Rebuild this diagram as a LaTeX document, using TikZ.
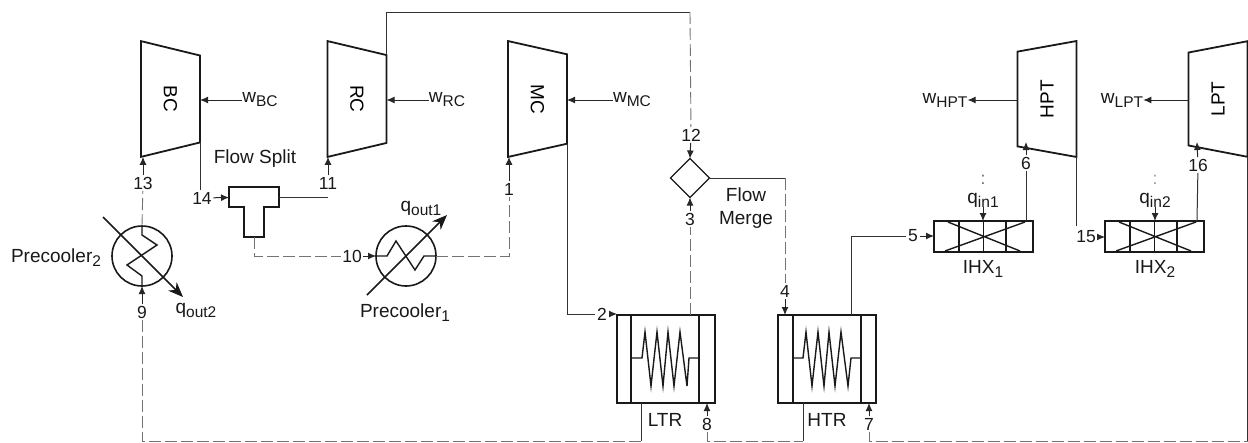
\documentclass[tikz,border=0pt]{standalone}
\usepackage{fontspec}
\setmainfont{Liberation Sans}
\usetikzlibrary{arrows.meta,shapes.geometric}
\newcommand{\lowtext}[1]{\raisebox{-4pt}{\fontsize{15.5}{16}\selectfont #1}}
\tikzset{
    machine/.style={trapezium,draw=black!90,line width=1.8pt,inner sep=0pt,outer sep=0pt,
        trapezium left angle=72,trapezium right angle=72,trapezium stretches=true,
        minimum height=59pt,minimum width=116pt,font=\fontsize{19}{19}\selectfont},
    unit/.style={draw=black!90,line width=1.9pt,inner sep=0pt,outer sep=0pt},
    cooler/.style={circle,draw=black!90,line width=1.6pt,minimum size=60pt,inner sep=0pt,outer sep=0pt},
    detail/.style={draw=black!90,line width=1.4pt},
    state/.style={font=\fontsize{17.5}{18}\selectfont,inner sep=1.5pt,text=black!90},
    tag/.style={font=\fontsize{19}{23}\selectfont,inner sep=0pt,text=black!90,align=center},
    line/.style={draw=black!80,line width=1pt},
    pipe/.style={draw=black!55,line width=0.9pt,dash pattern=on 12pt off 4pt},
    edge/.style={-{Latex[length=8pt,width=7pt]},draw=black!85,line width=1pt},
    heat/.style={-{Stealth[length=15pt,width=12pt]},draw=black!90,line width=1.5pt}
}
\begin{document}
\begin{tikzpicture}[x=1pt,y=-1pt]
\useasboundingbox (0,0) rectangle (1248,442);

\node[machine,rotate=-90] (BC) at (170.5,99) {BC};
\node[machine,rotate=-90] (RC) at (357,99) {RC};
\node[machine,rotate=-90] (MC) at (537.5,99) {MC};
\node[machine,rotate=90] (HPT) at (1047,99) {HPT};
\node[machine,rotate=90] (LPT) at (1218,99) {LPT};

\node[tag] (wBC) at (260,100) {w\lowtext{BC}};
\node[tag] (wRC) at (447,100) {w\lowtext{RC}};
\node[tag] (wMC) at (632,100) {w\lowtext{MC}};
\node[tag] (wHPT) at (945,100) {w\lowtext{HPT}};
\node[tag] (wLPT) at (1122,100) {w\lowtext{LPT}};

\draw[edge] (wBC) -- (wBC -| BC.top right corner);
\draw[edge] (wRC) -- (wRC -| RC.top right corner);
\draw[edge] (wMC) -- (wMC -| MC.top right corner);
\draw[edge] (wHPT -| HPT.top left corner) -- (wHPT);
\draw[edge] (wLPT -| LPT.top left corner) -- (wLPT);

\draw[unit] (229,187) -| (279,207) -| (264,237) -| (244,207) -| (229,187) -- cycle;
\coordinate (FSleft) at (229,197.5);
\coordinate (FSright) at (279,197.5);
\coordinate (FSbottom) at (254,237);
\node[tag] (FS) at (255,159) {Flow Split};

\node[cooler] (PC2) at (142,256) {};
\node[cooler] (PC1) at (406,256) {};
\draw[detail] (PC2.north) -- ++(0,9) -- ++(15,10) -- ++(-30,20) -- ++(15,11) -- (PC2.south);
\draw[detail] (PC1.west) -- ++(11,0) -- ++(9,-15) -- ++(19,29) -- ++(9,-14) -- (PC1.east);
\coordinate (q2start) at (103,217);
\coordinate (q2end) at (183,297);
\coordinate (q1start) at (367,295);
\coordinate (q1end) at (447,215);
\draw[heat] (q2start) -- (q2end);
\draw[heat] (q1start) -- (q1end);
\node[tag] (PClab2) at (56,258) {Precooler\lowtext{2}};
\node[tag] (PClab1) at (405,313) {Precooler\lowtext{1}};
\node[tag] (qout2) at (196,310) {q\lowtext{out2}};
\node[tag] (qout1) at (421,208) {q\lowtext{out1}};

\node[unit,diamond,line width=1.3pt,minimum size=39pt] (FM) at (690,178) {};
\node[tag] (FMlab) at (746,208.5) {Flow\\Merge};

\node[unit,rectangle,minimum width=98pt,minimum height=88pt] (LTR) at (666,359) {};
\node[unit,rectangle,minimum width=98pt,minimum height=88pt] (HTR) at (827,359) {};
\draw[detail] (631,315) -- (631,403) (699,315) -- (699,403);
\draw[detail] (793,315) -- (793,403) (861,315) -- (861,403);
\draw[detail] (631,358) -- (642,358) -- (645,332) -- (651,386) -- (657,332) -- (663,386) -- (668,332) -- (674,386) -- (680,332) -- (687,386) -- (689,358) -- (699,358);
\draw[detail] (793,358) -- (803,358) -- (806,332) -- (812,386) -- (818,332) -- (824,386) -- (829,332) -- (835,386) -- (841,332) -- (848,386) -- (851,358) -- (861,358);
\node[tag] (LTRlab) at (665,420) {LTR};
\node[tag] (HTRlab) at (827,420) {HTR};

\node[unit,rectangle,minimum width=99pt,minimum height=31pt] (IHX1) at (983.5,236.5) {};
\node[unit,rectangle,minimum width=99pt,minimum height=31pt] (IHX2) at (1154.5,236.5) {};
\draw[detail] (959,221) -- (959,252) (983.5,221) -- (983.5,252) (1006,221) -- (1006,252);
\draw[detail] (948,222) -- (1020,251) (945,251) -- (1025,222);
\draw[detail] (1130,221) -- (1130,252) (1154.5,221) -- (1154.5,252) (1177,221) -- (1177,252);
\draw[detail] (1119,222) -- (1191,251) (1116,251) -- (1196,222);
\node[tag] (IHXlab1) at (983,269) {IHX\lowtext{1}};
\node[tag] (IHXlab2) at (1155,269) {IHX\lowtext{2}};
\node[tag] (qin1) at (983,200) {q\lowtext{in1}};
\node[tag] (qin2) at (1155,200) {q\lowtext{in2}};
\node[state,text=black!60] (dots1) at (983,180) {:};
\node[state,text=black!40] (dots2) at (1155,180) {:};
\draw[edge] (qin1) -- (qin1 |- IHX1.north);
\draw[edge] (qin2) -- (qin2 |- IHX2.north);

\node[state] (s1) at (509,189) {1};
\node[state] (s2) at (602,314) {2};
\node[state] (s3) at (690,219) {3};
\node[state] (s4) at (785,291) {4};
\node[state] (s5) at (913,236) {5};
\node[state] (s6) at (1026,163) {6};
\node[state] (s7) at (869,424) {7};
\node[state] (s8) at (707,424) {8};
\node[state] (s9) at (142,312) {9};
\node[state] (s10) at (352,256) {10};
\node[state] (s11) at (328,183) {11};
\node[state] (s12) at (691,135) {12};
\node[state] (s13) at (143,183) {13};
\node[state] (s14) at (202,198) {14};
\node[state] (s15) at (1086,237) {15};
\node[state] (s16) at (1198,165) {16};

\coordinate (RCbend) at (690,12);
\coordinate (HTRout) at (851,315);
\coordinate (IHX1out) at (1026,221);
\coordinate (IHX2out) at (1197,221);
\coordinate (HPTin) at (1026,142);
\coordinate (LPTin) at (1197,142);
\coordinate (LTRhot) at (641,403);
\coordinate (HTRhot) at (803,403);
\coordinate (cornerL) at (142,441);
\coordinate (cornerR) at (1247.5,441);

\draw[edge] (s13) -- (s13 |- BC.bottom right corner);
\draw[edge] (s11) -- (s11 |- RC.bottom right corner);
\draw[edge] (s1) -- (s1 |- MC.bottom right corner);
\draw[edge] (s9) -- (PC2.south);
\draw[edge] (s10) -- (PC1.west);
\draw[edge] (s14) -- (FSleft);
\draw[edge] (s12) -- (FM.north);
\draw[edge] (s3) -- (FM.south);
\draw[edge] (s2) -- (s2 -| LTR.west);
\draw[edge] (s4) -- (s4 |- HTR.north);
\draw[edge] (s5) -- (s5 -| IHX1.west);
\draw[edge] (s15) -- (s15 -| IHX2.west);
\draw[edge] (s6) -- (HPTin);
\draw[edge] (s16) -- (LPTin);
\draw[edge] (s8) -- (s8 |- LTR.south);
\draw[edge] (s7) -- (s7 |- HTR.south);

\draw[line] (BC.top right corner) -- ++(0,48);
\draw[line] (FSright) -- (FSright -| s11);
\draw[line] (RC.top left corner) |- (RCbend);
\draw[line] (MC.top right corner) |- (s2);
\draw[line] (FM.east) -- (FM.east -| s4);
\draw[line] (HTRout) |- (s5);
\draw[line] (IHX1out) -- (s6);
\draw[line] (IHX2out) -- (s16);
\draw[line] (HPT.bottom left corner) -- ++(0,69);
\draw[line] (LPT.bottom left corner) -- (cornerR);
\draw[line] (LTRhot) -- (LTRhot |- cornerL);
\draw[line] (HTRhot) -- (HTRhot |- cornerL);

\draw[pipe] (RCbend) -- (s12);
\draw[pipe] (s3 |- LTR.north) -- (s3);
\draw[pipe] (FM.east -| s4) -- (s4);
\draw[pipe] (PC2.north) -- (s13);
\draw[pipe] (FSbottom) |- (s10);
\draw[pipe] (PC1.east) -| (s1);
\draw[pipe] (LTRhot |- cornerL) -- (cornerL) -- (s9);
\draw[pipe] (s8) -- (s8 |- cornerL) -- (HTRhot |- cornerL);
\draw[pipe] (s7) -- (s7 |- cornerL) -- (cornerR);

\end{tikzpicture}
\end{document}
